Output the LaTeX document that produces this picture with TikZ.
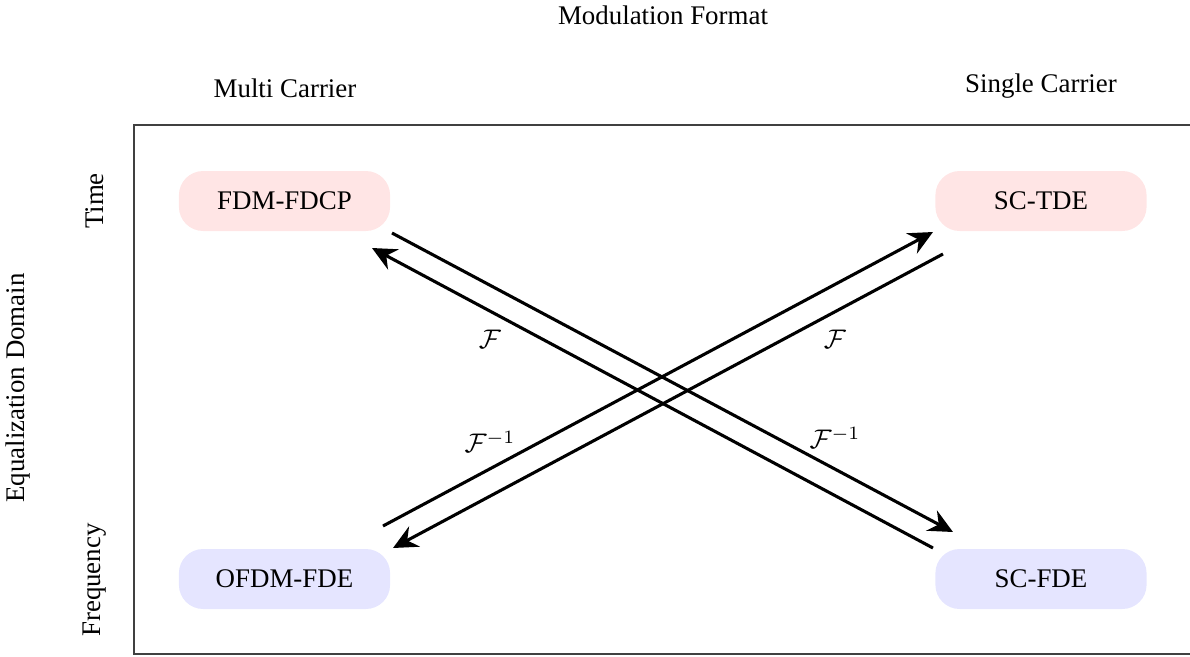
\documentclass[tikz,border=0pt]{standalone}
\usepackage{fontspec}
\setmainfont{Liberation Serif}
\usetikzlibrary{arrows.meta}
\begin{document}
\begin{tikzpicture}[x=0.3717pt,y=-0.3717pt,
  modebox/.style={rounded corners=9pt, minimum width=78.5pt, minimum height=22.3pt, inner sep=0pt},
  timebox/.style={modebox, fill=red!10},
  freqbox/.style={modebox, fill=blue!10},
  conv/.style={line width=1.15pt, -{Stealth[length=9pt,width=8.5pt,inset=3pt]}},
  lab/.style={inner sep=0pt}]
\useasboundingbox (0,0) rectangle (1190,656);
\draw[line width=0.45pt, black!75] (134,125) rectangle (1200,654);
\node[lab] (mf) at (663,15) {Modulation Format};
\node[lab] (mc) at (285,88) {Multi Carrier};
\node[lab] (sc) at (1041,86) {Single Carrier};
\node[lab, rotate=90] (ed) at (18,388) {Equalization Domain};
\node[lab, rotate=90] (tm) at (95,201) {Time};
\node[lab, rotate=90] (fq) at (95,580) {Frequency};
\node[timebox] (fdm) at (284.5,201) {FDM-FDCP};
\node[timebox] (sctde) at (1041,201) {SC-TDE};
\node[freqbox] (ofdm) at (284.5,579) {OFDM-FDE};
\node[freqbox] (scfde) at (1041,579) {SC-FDE};
\coordinate (a1s) at (392,233);
\coordinate (a1e) at (953,532);
\coordinate (a2s) at (933,548);
\coordinate (a2e) at (372,248);
\coordinate (a3s) at (383,526);
\coordinate (a3e) at (933,232);
\coordinate (a4s) at (943,254);
\coordinate (a4e) at (393,548);
\draw[conv] (a1s) -- (a1e);
\draw[conv] (a2s) -- (a2e);
\draw[conv] (a3s) -- (a3e);
\draw[conv] (a4s) -- (a4e);
\node[lab] (f1) at (490,339) {$\mathcal{F}$};
\node[lab] (f2) at (490,442) {$\mathcal{F}^{-1}$};
\node[lab] (f3) at (835,339) {$\mathcal{F}$};
\node[lab] (f4) at (835,438) {$\mathcal{F}^{-1}$};
\end{tikzpicture}
\end{document}
